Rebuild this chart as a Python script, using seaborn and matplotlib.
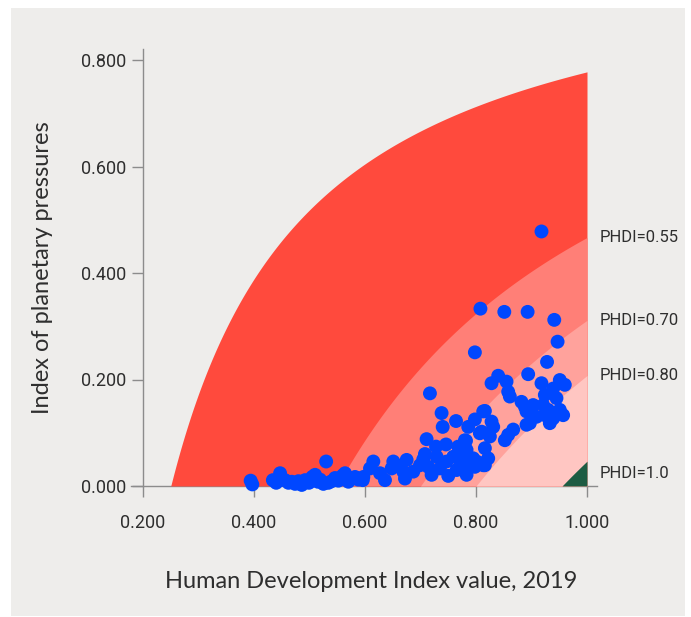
import numpy as np
import pandas as pd
import matplotlib
matplotlib.use("Agg")
import matplotlib.pyplot as plt
from matplotlib.patches import Rectangle
import seaborn as sns

# Human Development Index (2019) and index of planetary pressures by country
hdi = [
    0.394, 0.397, 0.434, 0.440, 0.447, 0.450, 0.456, 0.462, 0.468, 0.474,
    0.480, 0.486, 0.492, 0.499, 0.505, 0.510, 0.515, 0.519, 0.525, 0.530,
    0.534, 0.540, 0.546, 0.552, 0.560, 0.564, 0.570, 0.576, 0.582, 0.588,
    0.596,
    0.597, 0.609, 0.615, 0.627, 0.636, 0.648, 0.651, 0.657, 0.669, 0.672,
    0.675, 0.687, 0.699, 0.705, 0.708, 0.711, 0.714, 0.720, 0.728, 0.729,
    0.735, 0.738, 0.740, 0.746, 0.747, 0.750, 0.759, 0.764, 0.765, 0.768,
    0.771, 0.782, 0.783, 0.783, 0.786, 0.789, 0.798, 0.798, 0.801, 0.807,
    0.813, 0.813, 0.816, 0.717,
    0.798, 0.947, 0.928, 0.894, 0.840, 0.855, 0.828, 0.918, 0.951, 0.960,
    0.939, 0.858, 0.861, 0.924, 0.945, 0.882, 0.888, 0.903, 0.921, 0.930,
    0.951, 0.957, 0.891, 0.909, 0.924, 0.939, 0.933, 0.897, 0.891, 0.816,
    0.828, 0.831, 0.810, 0.825, 0.867, 0.858, 0.852, 0.780, 0.816, 0.777,
    0.795, 0.822, 0.813, 0.783,
    0.918, 0.808, 0.851, 0.893, 0.941,
]
pressures = [
    0.010, 0.003, 0.011, 0.006, 0.024, 0.012, 0.011, 0.006, 0.008, 0.004,
    0.009, 0.002, 0.011, 0.006, 0.017, 0.021, 0.008, 0.012, 0.004, 0.046,
    0.006, 0.009, 0.015, 0.010, 0.020, 0.024, 0.008, 0.014, 0.017, 0.012,
    0.011,
    0.017, 0.033, 0.046, 0.024, 0.011, 0.033, 0.046, 0.039, 0.027, 0.014,
    0.049, 0.027, 0.039, 0.050, 0.060, 0.088, 0.036, 0.021, 0.074, 0.055,
    0.033, 0.137, 0.111, 0.078, 0.046, 0.019, 0.055, 0.122, 0.030, 0.074,
    0.049, 0.085, 0.068, 0.021, 0.111, 0.052, 0.125, 0.036, 0.046, 0.099,
    0.140, 0.043, 0.039, 0.174,
    0.251, 0.271, 0.233, 0.210, 0.207, 0.196, 0.193, 0.193, 0.199, 0.190,
    0.183, 0.177, 0.168, 0.171, 0.165, 0.158, 0.149, 0.152, 0.152, 0.143,
    0.143, 0.133, 0.140, 0.130, 0.133, 0.127, 0.118, 0.118, 0.115, 0.141,
    0.121, 0.111, 0.102, 0.093, 0.106, 0.096, 0.086, 0.086, 0.071, 0.068,
    0.052, 0.052, 0.039, 0.039,
    0.478, 0.333, 0.327, 0.327, 0.312,
]

# PHDI contour bands: HDI value where each band meets zero pressure
band_starts = [0.25, 0.55, 0.70, 0.80, 0.955]
band_colors = ["#FF4A3D", "#FF7F77", "#FFA29C", "#FFC6C2", "#1D5C43"]
phdi_labels = ["PHDI=0.55", "PHDI=0.70", "PHDI=0.80", "PHDI=1.0"]

x_ticks = [0.2, 0.4, 0.6, 0.8, 1.0]
y_ticks = [0.0, 0.2, 0.4, 0.6, 0.8]

BG = "#EEEDEB"
TEXT = "#2E2E2E"
AXIS = "#8C8C8C"
CURVE_SCALE = 1.037

sns.set_theme(style="white")
tick_font = ["Roboto", "DejaVu Sans"]
title_font = ["Lato", "DejaVu Sans"]

fig = plt.figure(figsize=(6.91, 6.17), dpi=100, facecolor="white")
fig.patches.append(Rectangle((11 / 691, 0.002), (685 - 11) / 691, 0.985,
                             transform=fig.transFigure, facecolor=BG,
                             edgecolor="none", zorder=-10))

ax = fig.add_axes([131 / 691, (617 - 486) / 617, (597 - 131) / 691, (486 - 49) / 617])
ax.set_facecolor("none")
ax.set_xlim(0.2 - 12 / 555, 1.0 + 10 / 555)
ax.set_ylim(0, (486 - 49) / 532.5)


def boundary(x, start):
    return np.clip(CURVE_SCALE * (1 - start / x), 0, None)


for start, color in zip(band_starts, band_colors):
    xs = np.linspace(start, 1.0, 400)
    ax.fill_between(xs, 0, boundary(xs, start), color=color, lw=0, zorder=1)

df = pd.DataFrame({"hdi": hdi, "pressure": pressures})
sns.scatterplot(data=df, x="hdi", y="pressure", ax=ax, color="#0047FF",
                s=100, edgecolor="none", linewidth=0, zorder=5, clip_on=False,
                legend=False)

# labels at the right edge of each PHDI band
label_y = [boundary(1.0, s) for s in band_starts[1:4]] + [boundary(1.0, band_starts[4]) / 2]
for txt, yv in zip(phdi_labels, label_y):
    ax.text(1.0 + 13 / 555, yv, txt, ha="left", va="center", fontsize=12,
            color=TEXT, family=tick_font, clip_on=False)

for side in ["top", "right"]:
    ax.spines[side].set_visible(False)
ax.spines["left"].set_position(("data", 0.2))
ax.spines["left"].set_bounds(0, (486 - 49) / 532.5)
for side in ["left", "bottom"]:
    ax.spines[side].set_color(AXIS)
    ax.spines[side].set_linewidth(1.0)
ax.spines["bottom"].set_zorder(0.5)

ax.set_xticks(x_ticks)
ax.set_yticks(y_ticks)
ax.set_xticklabels([f"{v:.3f}" for v in x_ticks])
ax.set_yticklabels([f"{v:.3f}" for v in y_ticks])
ax.tick_params(axis="both", direction="out", length=8, width=1, color=AXIS,
               labelcolor=TEXT, labelsize=13)
ax.tick_params(axis="x", pad=12, bottom=True)
ax.tick_params(axis="y", pad=4, left=True)
for lab in ax.get_xticklabels() + ax.get_yticklabels():
    lab.set_family(tick_font)

ax.set_xlabel("Human Development Index value, 2019", fontsize=17, color=TEXT,
              family=title_font)
ax.xaxis.set_label_coords(0.516, -0.195)
ax.set_ylabel("Index of planetary pressures", fontsize=17, color=TEXT,
              family=title_font, labelpad=20)
ax.grid(False)

fig.savefig("out.png", dpi=100, facecolor="white")
